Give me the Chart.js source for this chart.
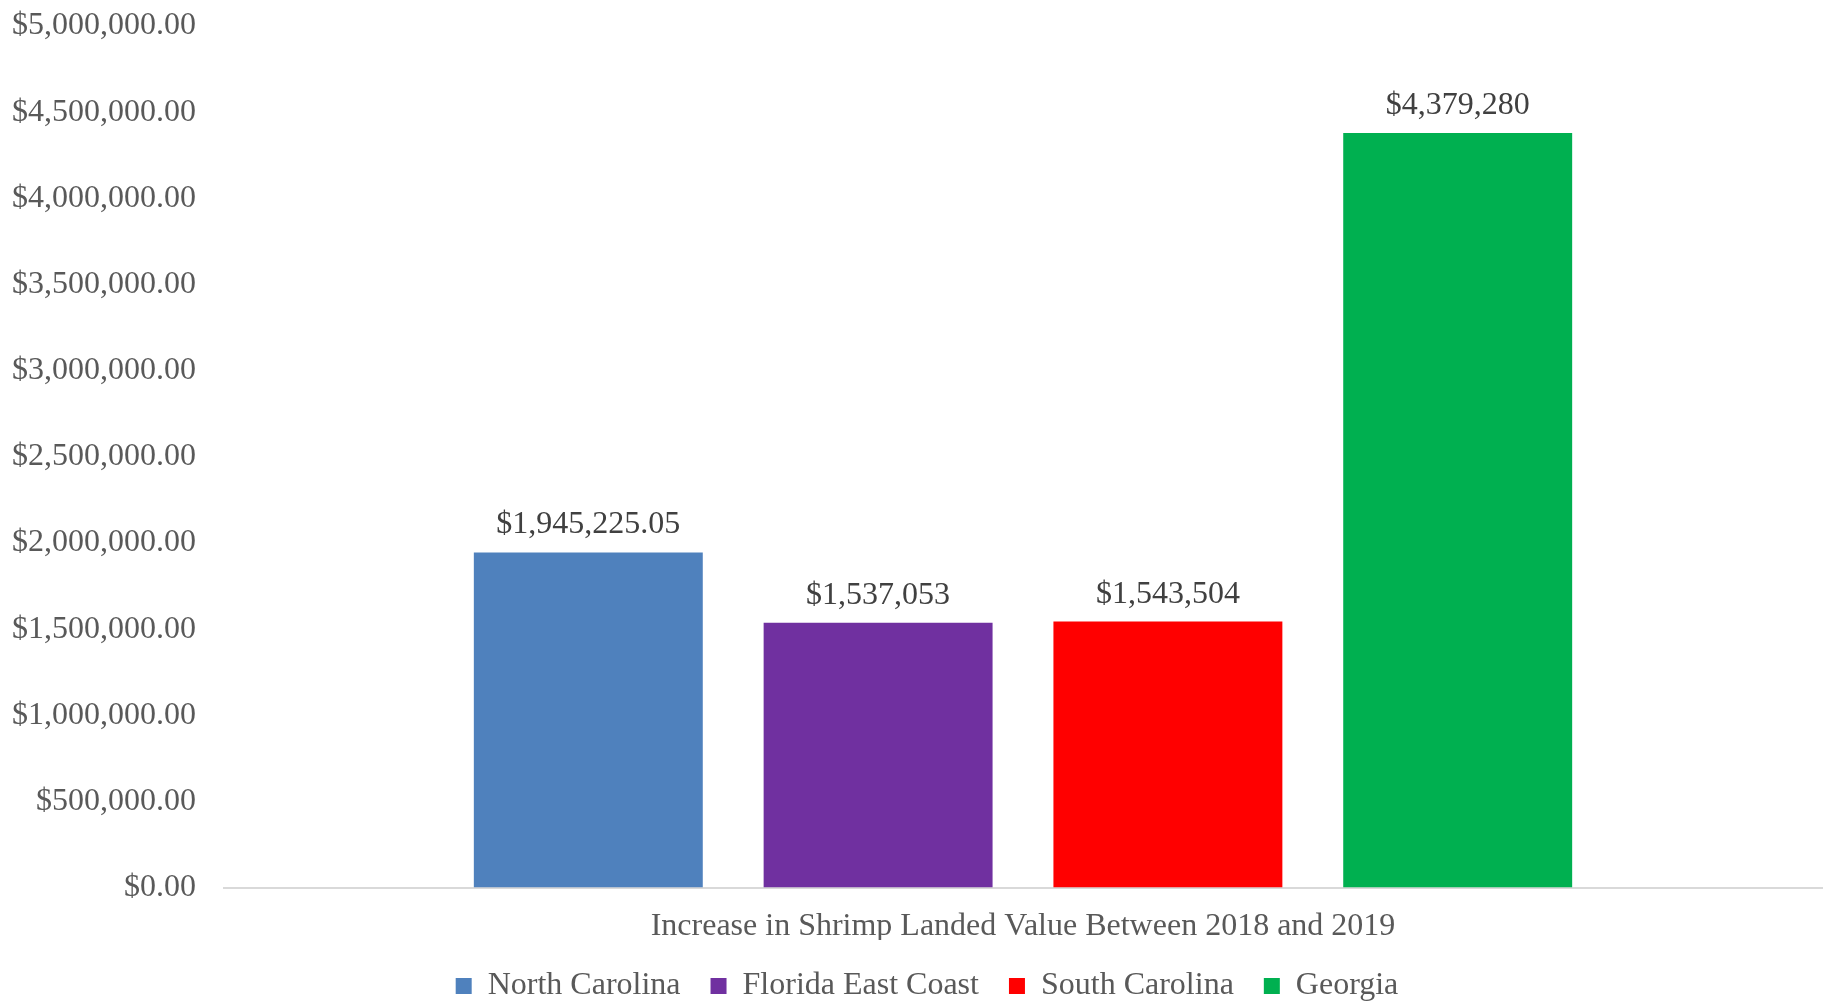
<!DOCTYPE html>
<html>
<head>
<meta charset="utf-8">
<script src="https://cdn.jsdelivr.net/npm/chart.js@4/dist/chart.umd.min.js"></script>
<style>
  html, body { margin: 0; padding: 0; background: #fff; }
  #wrap { width: 1828px; height: 1002px; position: relative; }
</style>
</head>
<body>
<div id="wrap"><canvas id="grafica"></canvas></div>
<script>
// Datos
const categorias = ['Increase in Shrimp Landed Value Between 2018 and 2019'];
const series = ['North Carolina', 'Florida East Coast', 'South Carolina', 'Georgia'];
const valores = [1945225.05, 1537053, 1543504, 4379280];
const colores = ['#4f81bd', '#7030a0', '#ff0000', '#00b050'];
const ejeMin = 0;
const ejeMax = 5000000;
const ejePaso = 500000;

const fuente = '"Liberation Serif", "Times New Roman", serif';

function formatoEje(v) {
    return '$' + v.toLocaleString('en-US', { minimumFractionDigits: 2, maximumFractionDigits: 2 });
}

function formatoEtiqueta(v) {
    const dec = Number.isInteger(v) ? 0 : 2;
    return '$' + v.toLocaleString('en-US', { minimumFractionDigits: dec, maximumFractionDigits: dec });
}

// Etiquetas de valor encima de cada barra
const etiquetasBarras = {
    id: 'etiquetasBarras',
    afterDatasetsDraw(chart) {
        const ctx = chart.ctx;
        ctx.save();
        ctx.font = '32px ' + fuente;
        ctx.fillStyle = '#404040';
        ctx.textAlign = 'center';
        ctx.textBaseline = 'alphabetic';
        chart.data.datasets.forEach((ds, i) => {
            const meta = chart.getDatasetMeta(i);
            meta.data.forEach((bar, j) => {
                ctx.fillText(formatoEtiqueta(ds.data[j]), bar.x, bar.y - 19);
            });
        });
        ctx.restore();
    }
};

// Mover un poco la leyenda hacia la derecha
const moverLeyenda = {
    id: 'moverLeyenda',
    afterLayout(chart) {
        if (chart.legend) {
            chart.legend.left += 24;
            chart.legend.right += 24;
        }
    }
};

const datasets = series.map((nombre, i) => ({
    label: nombre,
    data: [valores[i]],
    backgroundColor: colores[i],
    borderWidth: 0
}));

new Chart(document.getElementById('grafica').getContext('2d'), {
    type: 'bar',
    data: { labels: categorias, datasets: datasets },
    options: {
        responsive: true,
        maintainAspectRatio: false,
        animation: false,
        categoryPercentage: 0.7254,
        barPercentage: 0.79,
        layout: { padding: { top: 0, left: -16, right: 6, bottom: -10 } },
        plugins: {
            tooltip: { enabled: false },
            legend: {
                position: 'bottom',
                labels: {
                    font: { family: fuente, size: 32 },
                    color: '#595959',
                    boxWidth: 16,
                    boxHeight: 16,
                    padding: 30
                }
            }
        },
        scales: {
            x: {
                grid: { display: false, drawTicks: false },
                border: { display: true, color: '#d9d9d9', width: 2 },
                ticks: {
                    font: { family: fuente, size: 32 },
                    color: '#595959',
                    padding: 20
                },
                afterFit(scale) {
                    scale.height -= 26;
                }
            },
            y: {
                min: ejeMin,
                max: ejeMax,
                grid: { display: false, drawTicks: false },
                border: { display: false },
                ticks: {
                    stepSize: ejePaso,
                    font: { family: fuente, size: 32 },
                    color: '#595959',
                    padding: 28,
                    callback: formatoEje
                },
                afterFit(scale) {
                    scale.paddingTop = 26;
                }
            }
        }
    },
    plugins: [etiquetasBarras, moverLeyenda]
});
</script>
</body>
</html>
